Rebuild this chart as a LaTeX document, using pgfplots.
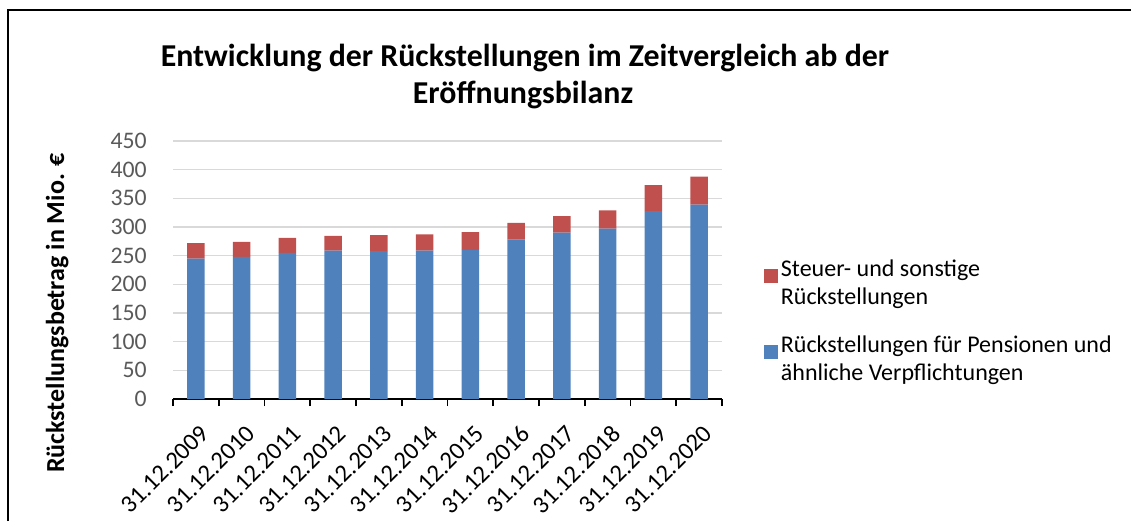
\documentclass[border=0pt]{standalone}
\usepackage{fontspec}
\setmainfont{Carlito}
\usepackage{pgfplots}
\pgfplotsset{compat=1.18}
\definecolor{xblue}{HTML}{4F81BD}
\definecolor{xred}{HTML}{C0504D}
\definecolor{xgrid}{HTML}{D9D9D9}
\definecolor{xgray}{HTML}{595959}
\begin{document}
\begin{tikzpicture}[x=0.75pt,y=0.75pt]
\useasboundingbox (0,0) rectangle (1131,521);
\draw[line width=1.3pt,black] (8,0) -- (8,511) -- (1131,511);
\node[anchor=base,font={\fontsize{23.9}{28}\selectfont\bfseries}] at (525,454) {Entwicklung der Rückstellungen im Zeitvergleich ab der};
\node[anchor=base,font={\fontsize{23.9}{28}\selectfont\bfseries}] at (523,417) {Eröffnungsbilanz};
\node[rotate=90,anchor=base,font={\fontsize{19.5}{23}\selectfont\bfseries}] at (64,208) {Rückstellungsbetrag in Mio. €};
\begin{axis}[
  at={(129.75pt,91.5pt)}, anchor=south west,
  scale only axis, width=411.75pt, height=193.5pt,
  ybar stacked, bar width=13.3pt,
  xmin=-0.5, xmax=11.5, ymin=0, ymax=450,
  ytick={0,50,...,450},
  xtick={0,...,11},
  xticklabels={31.12.2009,31.12.2010,31.12.2011,31.12.2012,31.12.2013,31.12.2014,31.12.2015,31.12.2016,31.12.2017,31.12.2018,31.12.2019,31.12.2020},
  minor xtick={-0.5,0.5,...,11.5},
  axis x line*=bottom, axis y line*=left,
  x axis line style={line width=1.5pt,-},
  y axis line style={draw=none},
  major x tick style={draw=none},
  minor x tick style={line width=1.3pt,black},
  minor tick length=5.3pt,
  tick align=outside,
  ymajorgrids, grid style={xgrid,line width=0.9pt},
  /pgf/number format/assume math mode=true,
  yticklabel style={font={\fontsize{17.8}{20}\selectfont},text=xgray,anchor=east,xshift=-12pt},
  ytick style={draw=none},
  xticklabel style={font={\fontsize{18.5}{21}\selectfont},rotate=45,anchor=east,xshift=-5pt,yshift=-18pt},
  reverse legend,
  legend style={at={(1.0765,0.55)},anchor=north west,draw=none,fill=none,
    font={\fontsize{18}{21}\selectfont},row sep=12pt,inner sep=0pt,
    cells={anchor=west,align=left}},
  legend cell align=left,
  legend image code/.code={\path (0pt,-25pt); \fill[#1] (0pt,0pt) rectangle (10.5pt,10.5pt);},
]
\addplot[fill=xblue,draw=none] coordinates {(0,245) (1,248) (2,255) (3,259) (4,258) (5,259) (6,260) (7,278) (8,290) (9,297) (10,327.5) (11,339)};
\addlegendentry{Rückstellungen für Pensionen und\\ähnliche Verpflichtungen}
\addplot[fill=xred,draw=none] coordinates {(0,27) (1,26) (2,26) (3,25.5) (4,28) (5,28) (6,31) (7,29) (8,29) (9,32) (10,45.5) (11,49)};
\addlegendentry{Steuer- und sonstige\\Rückstellungen}
\end{axis}
\end{tikzpicture}
\end{document}
